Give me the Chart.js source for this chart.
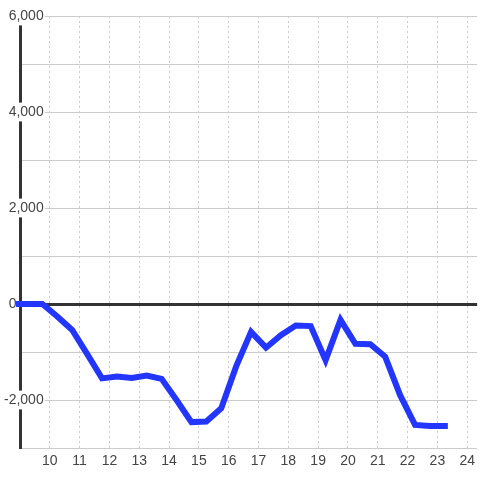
<!DOCTYPE html>
<html>
<head>
<meta charset="utf-8">
<script src="https://cdn.jsdelivr.net/npm/chart.js@4"></script>
<style>
  html, body { margin: 0; padding: 0; background: #ffffff; }
  #wrap { width: 480px; height: 480px; position: relative; }
</style>
</head>
<body>
<div id="wrap"><canvas id="c" width="480" height="480"></canvas></div>
<script>
const hours = [8.75, 9.25, 9.75, 10.25, 10.75, 11.25, 11.75, 12.25, 12.75, 13.25, 13.75, 14.25, 14.75, 15.25, 15.75, 16.25, 16.75, 17.25, 17.75, 18.25, 18.75, 19.25, 19.75, 20.25, 20.75, 21.25, 21.75, 22.25, 22.75, 23.25];
const values = [0, 0, 0, -260, -540, -1040, -1550, -1510, -1540, -1490, -1560, -2000, -2460, -2450, -2170, -1300, -580, -910, -650, -450, -460, -1170, -330, -830, -840, -1100, -1900, -2520, -2540, -2540];
const xTickLabels = ['10','11','12','13','14','15','16','17','18','19','20','21','22','23','24'];
const yTickValues = [-2000, 0, 2000, 4000, 6000];
const yTickLabels = ['-2,000', '0', '2,000', '4,000', '6,000'];

const points = hours.map((h, i) => ({ x: h, y: values[i] }));
const tickFont = { family: "'Liberation Sans', Arial, sans-serif", size: 14 };
const NB = '\u00a0';

new Chart(document.getElementById('c'), {
  type: 'line',
  data: {
    datasets: [{
      data: points,
      borderColor: '#2236ff',
      borderWidth: 6,
      pointRadius: 0,
      tension: 0,
      borderCapStyle: 'square',
      borderJoinStyle: 'miter',
      fill: false,
      clip: { left: 4, top: 0, right: 0, bottom: 0 }
    }]
  },
  options: {
    responsive: false,
    animation: false,
    layout: { padding: { top: 16, left: 0, right: 0, bottom: 0 } },
    plugins: { legend: { display: false }, tooltip: { enabled: false } },
    scales: {
      x: {
        type: 'linear',
        min: 9,
        max: 24.3333,
        afterFit: (s) => { s.height = 32; },
        border: { display: false, dash: [2, 3] },
        grid: { color: '#cccccc', lineWidth: 1, drawTicks: false },
        ticks: {
          stepSize: 1,
          includeBounds: false,
          autoSkip: false,
          maxRotation: 0,
          padding: 5,
          color: '#444444',
          font: tickFont,
          callback: (v) => {
            const s = String(v);
            return xTickLabels.includes(s) ? s : '';
          }
        }
      },
      y: {
        type: 'linear',
        min: -3000,
        max: 6000,
        afterFit: (s) => { s.width = 20; },
        border: { display: true, color: '#333333', width: 3 },
        grid: {
          drawTicks: false,
          color: (ctx) => ctx.tick && ctx.tick.value === 0 ? '#333333' : '#cccccc',
          lineWidth: (ctx) => ctx.tick && ctx.tick.value === 0 ? 3 : 1
        },
        ticks: {
          z: 1,
          mirror: true,
          crossAlign: 'far',
          stepSize: 1000,
          padding: -16,
          color: '#444444',
          font: tickFont,
          showLabelBackdrop: true,
          backdropPadding: 1,
          backdropColor: (ctx) => {
            const v = ctx.tick ? ctx.tick.value : null;
            return (v !== 0 && yTickValues.includes(v)) ? '#ffffff' : 'rgba(0,0,0,0)';
          },
          callback: (v) => {
            const i = yTickValues.indexOf(Number(v));
            if (i < 0) return '';
            return v === 0 ? yTickLabels[i] + NB.repeat(7) : yTickLabels[i];
          }
        }
      }
    }
  }
});
</script>
</body>
</html>
